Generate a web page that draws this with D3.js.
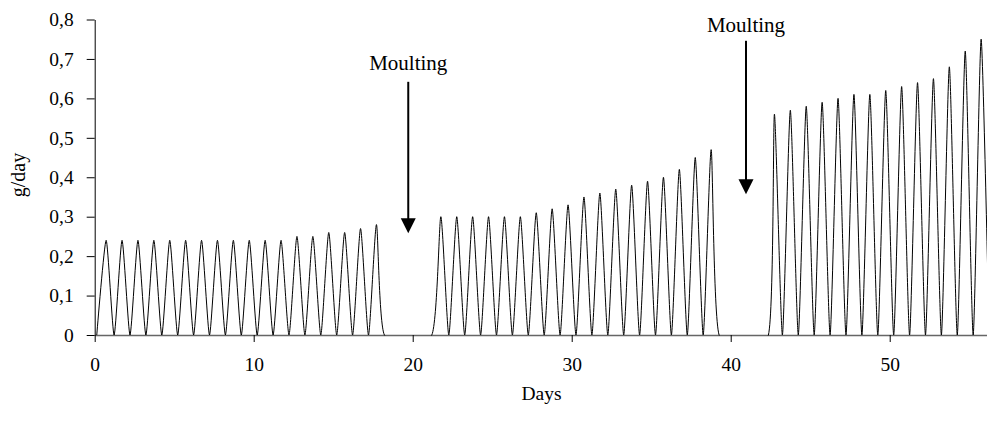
<!DOCTYPE html>
<html>
<head>
<meta charset="utf-8">
<script src="https://cdn.jsdelivr.net/npm/d3@7"></script>
<style>
  body { margin: 0; background: #fff; }
  svg { display: block; }
  text { font-family: "Liberation Serif", "Times New Roman", serif; fill: #000; }
</style>
</head>
<body>
<svg id="chart" width="987" height="421"></svg>
<script>
// peak values (g/day) per feeding cycle, one per day
var seg1Peaks = [0.24, 0.24, 0.24, 0.24, 0.24, 0.24, 0.24, 0.24, 0.24, 0.24, 0.24, 0.24,
                 0.25, 0.25, 0.26, 0.26, 0.27, 0.28];
var seg2Peaks = [0.30, 0.30, 0.30, 0.30, 0.30, 0.30, 0.31, 0.32, 0.33, 0.35, 0.36, 0.37,
                 0.38, 0.39, 0.40, 0.42, 0.45, 0.47];
var seg3Peaks = [0.56, 0.57, 0.58, 0.59, 0.60, 0.61, 0.61, 0.62, 0.63, 0.64, 0.65, 0.68,
                 0.72, 0.75];
// day of the first peak in each instar, and the day the curve leaves zero
var segFirstPeak = [0.72, 21.77, 42.75];
var segRise = [0.13, 21.2, 42.37];

var xTicks = [0, 10, 20, 30, 40, 50];
var yTicks = [0, 0.1, 0.2, 0.3, 0.4, 0.5, 0.6, 0.7, 0.8];
var yTickLabels = ["0", "0,1", "0,2", "0,3", "0,4", "0,5", "0,6", "0,7", "0,8"];

// moulting arrows: day, arrow top, arrow tip, label baseline (g/day units)
var moults = [
    {day: 19.72, top: 0.642, tip: 0.258, label: 0.672},
    {day: 40.96, top: 0.746, tip: 0.357, label: 0.769}
];

var svg = d3.select('#chart'),
    margin = {left: 94.7, top: 19.5, bottom: 335},
    xScale = d3.scaleLinear().domain([0, 56.15]).range([margin.left, 987.5]),
    yScale = d3.scaleLinear().domain([0, 0.8]).range([margin.bottom, margin.top]);

// build the daily cycles: zero valley between peaks
var points = [];
[seg1Peaks, seg2Peaks, seg3Peaks].forEach(function(peaks, s) {
    points.push([segRise[s], 0]);
    peaks.forEach(function(v, k) {
        var d = segFirstPeak[s] + k;
        points.push([d, v]);
        points.push([d + 0.5, 0]);
    });
});

var line = d3.line()
    .x(function(d) { return xScale(d[0]); })
    .y(function(d) { return yScale(d[1]); })
    .curve(d3.curveCardinal.tension(0.4));

// keep the spline from dipping under the baseline
svg.append('defs').append('clipPath')
    .attr('id', 'plot-clip')
    .append('rect')
    .attr('x', margin.left)
    .attr('y', 0)
    .attr('width', 987 - margin.left)
    .attr('height', margin.bottom + 0.5);

// axes
var yAxis = d3.axisLeft(yScale)
    .tickValues(yTicks)
    .tickSize(8)
    .tickSizeOuter(0)
    .tickPadding(13)
    .tickFormat(function(d, i) { return yTickLabels[i]; });

var xAxis = d3.axisBottom(xScale)
    .tickValues(xTicks)
    .tickSize(7)
    .tickSizeOuter(0)
    .tickPadding(15);

var gx = svg.append('g')
    .attr('class', 'axis axis-x')
    .attr('transform', 'translate(0,' + margin.bottom + ')')
    .call(xAxis);

var gy = svg.append('g')
    .attr('class', 'axis axis-y')
    .attr('transform', 'translate(' + margin.left + ',0)')
    .call(yAxis);

svg.selectAll('.axis path, .axis line')
    .attr('stroke', '#000')
    .attr('stroke-width', 1);
gx.select('.domain').attr('stroke', '#666').attr('stroke-width', 1.6);

svg.selectAll('.axis text')
    .style('font-family', '"Liberation Serif", serif')
    .style('font-size', '19.5px')
    .attr('fill', '#000');

// data line
svg.append('path')
    .datum(points)
    .attr('clip-path', 'url(#plot-clip)')
    .attr('fill', 'none')
    .attr('stroke', '#000')
    .attr('stroke-width', 1)
    .attr('d', line);

// axis titles
svg.append('text')
    .attr('x', xScale(28.1))
    .attr('y', 400)
    .attr('text-anchor', 'middle')
    .style('font-size', '19.5px')
    .text('Days');

svg.append('text')
    .attr('transform', 'translate(25,175) rotate(-90)')
    .attr('text-anchor', 'middle')
    .style('font-size', '20px')
    .text('g/day');

// moulting annotations
var moult = svg.selectAll('.moult')
    .data(moults)
    .enter().append('g')
    .classed('moult', true);

moult.append('line')
    .attr('x1', function(d) { return xScale(d.day); })
    .attr('x2', function(d) { return xScale(d.day); })
    .attr('y1', function(d) { return yScale(d.top); })
    .attr('y2', function(d) { return yScale(d.tip) - 12; })
    .attr('stroke', '#000')
    .attr('stroke-width', 2);

moult.append('path')
    .attr('d', function(d) {
        var x = xScale(d.day), y = yScale(d.tip);
        return 'M' + (x - 7.5) + ',' + (y - 15) + 'L' + (x + 7.5) + ',' + (y - 15) + 'L' + x + ',' + y + 'Z';
    })
    .attr('fill', '#000');

moult.append('text')
    .attr('x', function(d) { return xScale(d.day); })
    .attr('y', function(d) { return yScale(d.label); })
    .attr('text-anchor', 'middle')
    .style('font-size', '21px')
    .text('Moulting');
</script>
</body>
</html>
